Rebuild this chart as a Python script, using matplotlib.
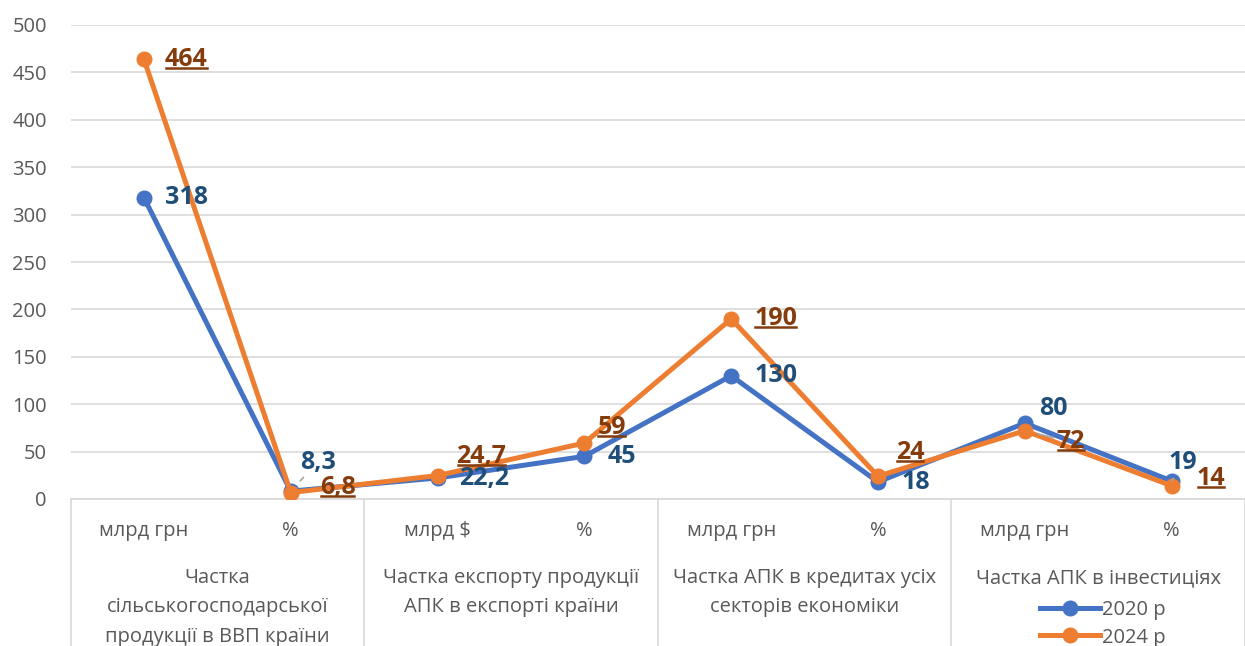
import matplotlib

matplotlib.use("Agg")
import matplotlib.pyplot as plt  # noqa: E402
from matplotlib.lines import Line2D  # noqa: E402
from matplotlib.text import Text  # noqa: E402
import matplotlib.transforms as mtransforms  # noqa: E402

plt.rcParams["font.family"] = ["Open Sans", "DejaVu Sans"]

units = ["млрд грн", "%", "млрд $", "%", "млрд грн", "%", "млрд грн", "%"]
groups = [
    "Частка\nсільськогосподарської\nпродукції в ВВП країни",
    "Частка експорту продукції\nАПК в експорті країни",
    "Частка АПК в кредитах усіх\nсекторів економіки",
    "Частка АПК в інвестиціях",
]
v2020 = [318, 8.3, 22.2, 45, 130, 18, 80, 19]
v2024 = [464, 6.8, 24.7, 59, 190, 24, 72, 14]
lab2020 = ["318", "8,3", "22,2", "45", "130", "18", "80", "19"]
lab2024 = ["464", "6,8", "24,7", "59", "190", "24", "72", "14"]

# label offsets in pixels (dx, dy with y up)
off2020 = [(21, 0), (9, 29), (22, -1), (23, 0), (23, 0), (24, -1), (14, 15), (-3, 18)]
off2024 = [(21, 0), (29, 5), (19, 19), (13, 16), (23, 0), (18, 24), (32, -11), (25, 7)]
leader2020 = [False, True, False, False, False, False, False, True]
leader2024 = [False, False, False, False, False, False, True, False]

BLUE, ORANGE = "#4472C4", "#ED7D31"
BLUE_T, ORANGE_T = "#1F4E79", "#843C0C"

W, H = 1245, 646
fig = plt.figure(figsize=(W / 100, H / 100), dpi=100)
ax = fig.add_axes([70.5 / W, 1 - 499 / H, 1 - 70.5 / W, (499 - 25) / H])

x = list(range(len(units)))
ax.plot(x, v2020, color=BLUE, lw=3.6, marker="o", ms=10.5, label="2020 р", zorder=3)
ax.plot(x, v2024, color=ORANGE, lw=3.6, marker="o", ms=10.5, label="2024 р", zorder=4)

ax.set_xlim(-0.5, len(units) - 0.5)
ax.set_ylim(0, 500)
ax.set_yticks(range(0, 501, 50))
ax.yaxis.grid(True, color="#D9D9D9", lw=1.2)
ax.set_axisbelow(True)
ax.tick_params(axis="y", length=0, labelsize=14.5, labelcolor="#595959", pad=17)
ax.set_xticks([])
for s in ["top", "right", "left"]:
    ax.spines[s].set_visible(False)
ax.spines["bottom"].set_color("#D9D9D9")
ax.spines["bottom"].set_linewidth(1.2)


def put_labels(vals, labs, offs, leaders, color):
    texts = []
    for i, (v, s, (dx, dy), ld) in enumerate(zip(vals, labs, offs, leaders)):
        t = ax.annotate(
            s, (i, v), xytext=(dx * 0.72, dy * 0.72), textcoords="offset points",
            ha="left", va="center", fontsize=18, fontweight="bold", color=color,
            zorder=6,
            arrowprops=dict(arrowstyle="-", color="#A6A6A6", lw=1.2,
                            shrinkA=0, shrinkB=10) if ld else None,
        )
        texts.append(t)
    return texts


put_labels(v2020, lab2020, off2020, leader2020, BLUE_T)
orange_texts = put_labels(v2024, lab2024, off2024, leader2024, ORANGE_T)

# category axis
trans = mtransforms.blended_transform_factory(ax.transData, ax.transAxes)
ah = (499 - 25)
for i, u in enumerate(units):
    ax.text(i, -(531 - 499) / ah, u, transform=trans, ha="center", va="center",
            fontsize=14.5, color="#595959")
for g, name in enumerate(groups):
    ax.text(2 * g + 0.5, -(568 - 499) / ah, name, transform=trans, ha="center",
            va="top", fontsize=14.5, color="#595959", linespacing=1.62)
for b in range(len(groups) + 1):
    ax.add_line(Line2D([2 * b - 0.5, 2 * b - 0.5], [0, -0.32], transform=trans,
                       color="#D9D9D9", lw=1.2, clip_on=False))

fig.legend(loc="center", bbox_to_anchor=(1103 / W, 1 - 624 / H), frameon=False,
           fontsize=14.5, labelspacing=0.35, handlelength=3.0, handletextpad=0.1,
           borderpad=0, labelcolor="#595959")

# underline the 2024 labels
fig.canvas.draw()
r = fig.canvas.get_renderer()
for t in orange_texts:
    bb = Text.get_window_extent(t, r)
    y = bb.y0 + 4
    fig.add_artist(Line2D([(bb.x0 + 1) / W, (bb.x1 - 1) / W], [y / H, y / H],
                          transform=fig.transFigure, color=ORANGE_T, lw=1.8,
                          zorder=7))

fig.savefig("out.png", dpi=100)
